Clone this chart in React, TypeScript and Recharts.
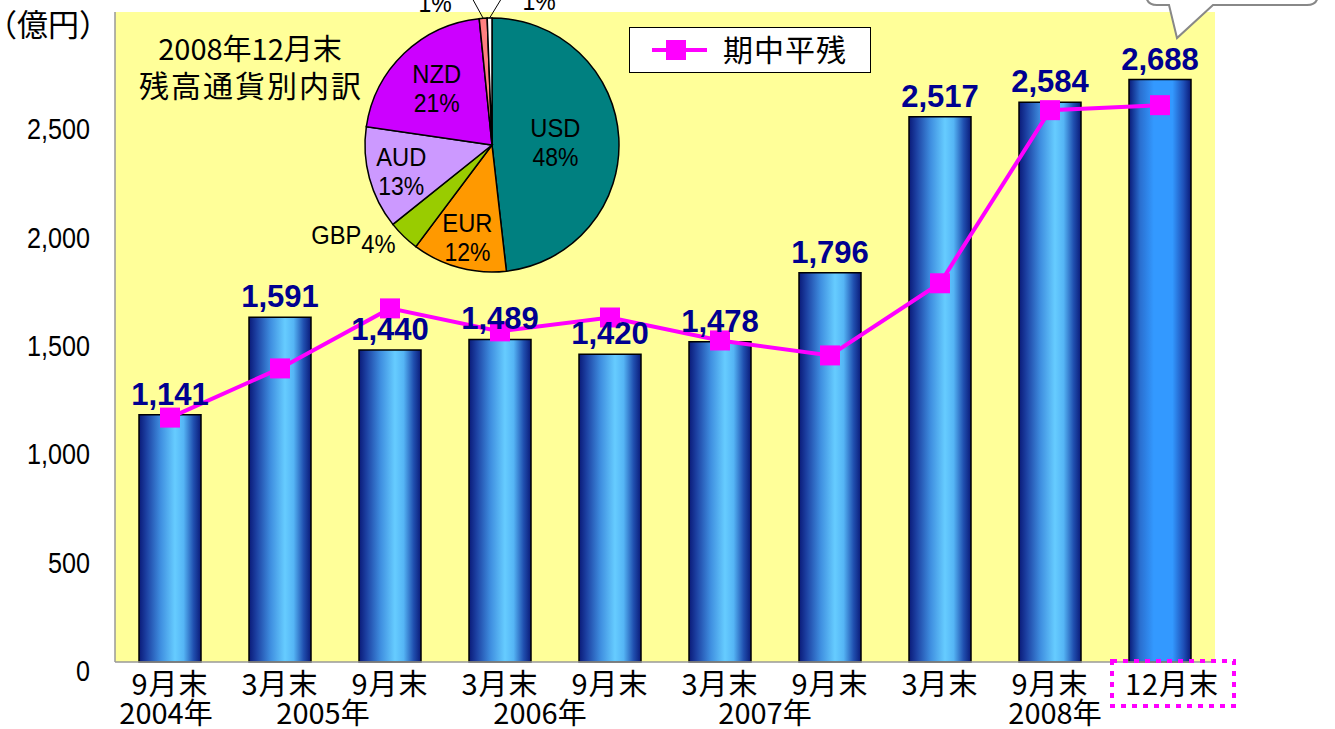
import React from 'react';
import {
  ComposedChart, Bar, Line, XAxis, YAxis, CartesianGrid, LabelList, Legend, Cell,
  PieChart, Pie,
} from 'recharts';

// ---- data ----
const categories = ['9月末', '3月末', '9月末', '3月末', '9月末', '3月末', '9月末', '3月末', '9月末', '12月末'];
const yearLabels = ['2004年', '2005年', '2006年', '2007年', '2008年'];
const yearAnchorIndex = [0, 1, 3, 5, 8];
const periodEndBalance = [1141, 1591, 1440, 1489, 1420, 1478, 1796, 2517, 2584, 2688];
const averageBalance = [1128, 1355, 1632, 1526, 1590, 1484, 1415, 1748, 2547, 2570];
const yTicks = [0, 500, 1000, 1500, 2000, 2500];

const currencies = ['USD', 'EUR', 'GBP', 'AUD', 'NZD', 'その他A', 'その他B'];
const currencyShares = [48, 12, 4, 13, 21, 1, 0.6];
const currencyPctLabels = ['48%', '12%', '4%', '13%', '21%', '1%', '1%'];

const lineName = '期中平残';
const unitLabel = '（億円）';
const pieTitle1 = '2008年12月末';
const pieTitle2 = '残高通貨別内訳';

// ---- styles ----
const LATIN = '"Liberation Sans", Arial, "Noto Sans CJK JP", sans-serif';
const CJK = '"Noto Sans CJK JP", sans-serif';
const pieColors = ['#008080', '#FF9900', '#99CC00', '#CC99FF', '#CC00FF', '#FF8080', '#FFFFFF'];
const YEAR_SHIFT = [-4, 43, 40, 45, 5];
const LAST_TICK_SHIFT = 12;

const tableData = categories.map((c, i) => ({
  cat: c,
  balance: periodEndBalance[i],
  avg: averageBalance[i],
}));
const pieData = currencies.map((n, i) => ({ name: n, value: currencyShares[i], pct: currencyPctLabels[i] }));

const NText = ({ x, y, sx = 1, anchor = 'start', children, ...rest }: any) => (
  <text transform={`translate(${x},${y}) scale(${sx},1)`} x={0} y={0} textAnchor={anchor} {...rest}>
    {children}
  </text>
);

const XTick = (props: any) => {
  const { x, y, payload, index } = props;
  const yi = yearAnchorIndex.indexOf(index);
  const isLast = index === categories.length - 1;
  const mx = x + (isLast ? LAST_TICK_SHIFT : 0);
  return (
    <g>
      <text x={mx} y={y + 33} textAnchor="middle" fontFamily={CJK} fontSize={29} letterSpacing={1} fill="#000">
        {payload.value}
      </text>
      {yi >= 0 && (
        <text x={x + YEAR_SHIFT[yi]} y={y + 62} textAnchor="middle" fontFamily={CJK} fontSize={29} fill="#000">
          {yearLabels[yi]}
        </text>
      )}
      {isLast && (
        <rect x={mx - 60} y={y - 1} width={122} height={45} fill="none" stroke="#FF00FF" strokeWidth={4} strokeDasharray="5 6" />
      )}
    </g>
  );
};

const YTick = (props: any) => {
  const { x, y, payload } = props;
  return (
    <NText x={x - 25} y={y + 19} sx={0.84} anchor="end" fontFamily={LATIN} fontSize={30} fill="#000">
      {Number(payload.value).toLocaleString('en-US')}
    </NText>
  );
};

const BarValueLabel = (props: any) => {
  const { x, y, width, value } = props;
  return (
    <NText x={x + width / 2} y={y - 10} sx={0.97} anchor="middle" fontFamily={LATIN} fontWeight="bold" fontSize={32} fill="#000090">
      {Number(value).toLocaleString('en-US')}
    </NText>
  );
};

const SquareDot = (props: any) => {
  const { cx, cy, index } = props;
  if (cx == null || cy == null) return null;
  return <rect key={`d${index}`} x={cx - 10} y={cy - 10} width={20} height={20} fill="#FF00FF" />;
};

const LegendBox = () => (
  <div style={{ width: 242, height: 46, boxSizing: 'border-box', border: '1.5px solid #000', background: '#fff', position: 'relative' }}>
    <svg width={240} height={44} style={{ position: 'absolute', left: 0, top: 0 }}>
      <line x1={22} y1={22} x2={77} y2={22} stroke="#FF00FF" strokeWidth={4} />
      <rect x={36} y={12} width={20} height={20} fill="#FF00FF" />
      <text x={93} y={33} fontFamily={CJK} fontSize={30} letterSpacing={1} fill="#000">{lineName}</text>
    </svg>
  </div>
);

const RAD = Math.PI / 180;
const PIE_LABEL_R = [0.5, 0.74, 1.09, 0.74, 0.63, 0, 0];

const PieLabel = (props: any) => {
  const { cx, cy, midAngle, outerRadius, index } = props;
  const name = currencies[index];
  const pct = currencyPctLabels[index];
  const cos = Math.cos(-midAngle * RAD);
  const sin = Math.sin(-midAngle * RAD);
  if (index <= 4 && index !== 2) {
    const r = outerRadius * PIE_LABEL_R[index];
    const lx = cx + r * cos;
    const ly = cy + r * sin;
    return (
      <g>
        <NText x={lx} y={ly - 4} sx={0.95} anchor="middle" fontFamily={LATIN} fontSize={25} fill="#000">{name}</NText>
        <NText x={lx} y={ly + 25} sx={0.92} anchor="middle" fontFamily={LATIN} fontSize={25} fill="#000">{pct}</NText>
      </g>
    );
  }
  if (index === 2) {
    const r = outerRadius * PIE_LABEL_R[index];
    const lx = cx + r * cos;
    const ly = cy + r * sin;
    return (
      <NText x={lx} y={ly} sx={0.95} anchor="end" fontFamily={LATIN} fontSize={25} fill="#000">
        {name}
        <tspan dy={9}>{pct}</tspan>
      </NText>
    );
  }
  // tiny slices: leader lines up to labels above the pie
  const ex = cx + outerRadius * cos;
  const ey = cy + outerRadius * sin;
  const left = index === 5;
  const tx = left ? cx - 21 : cx + 11;
  return (
    <g>
      <line x1={ex} y1={ey} x2={tx} y2={-4} stroke="#000" strokeWidth={1} />
      <NText x={left ? cx - 57 : cx + 47} y={left ? 12 : 10} sx={0.92} anchor="middle" fontFamily={LATIN} fontSize={25} fill="#000">{pct}</NText>
    </g>
  );
};

export default function App() {
  return (
    <div style={{ position: 'absolute', left: 0, top: 0, width: 1335, height: 729, background: '#fff', overflow: 'hidden' }}>
      <ComposedChart width={1335} height={729} data={tableData} margin={{ top: 12, right: 120, bottom: 0, left: 0 }}>
        <defs>
          <linearGradient id="barGrad" x1="0" y1="0" x2="1" y2="0">
            <stop offset="0%" stopColor="#0a1a78" />
            <stop offset="12%" stopColor="#1c40a2" />
            <stop offset="35%" stopColor="#3f8fe0" />
            <stop offset="58%" stopColor="#66ccff" />
            <stop offset="72%" stopColor="#55b5f5" />
            <stop offset="88%" stopColor="#2050b0" />
            <stop offset="100%" stopColor="#0a1a78" />
          </linearGradient>
          <linearGradient id="barGradLast" x1="0" y1="0" x2="1" y2="0">
            <stop offset="0%" stopColor="#0a1a78" />
            <stop offset="18%" stopColor="#2a6fd0" />
            <stop offset="40%" stopColor="#3399ff" />
            <stop offset="70%" stopColor="#3399ff" />
            <stop offset="88%" stopColor="#1e50b8" />
            <stop offset="100%" stopColor="#0a1a78" />
          </linearGradient>
        </defs>
        <CartesianGrid fill="#FFFF99" horizontal={false} vertical={false} />
        <XAxis
          dataKey="cat"
          interval={0}
          height={67}
          tickSize={0}
          tickMargin={0}
          tickLine={false}
          axisLine={{ stroke: '#999', strokeWidth: 1.5 }}
          tick={<XTick />}
        />
        <YAxis
          domain={[0, 3000]}
          ticks={yTicks}
          width={115}
          tickSize={0}
          tickMargin={0}
          tickLine={false}
          axisLine={{ stroke: '#999', strokeWidth: 1.5 }}
          tick={<YTick />}
        />
        <Legend
          layout="vertical"
          align="center"
          verticalAlign="middle"
          wrapperStyle={{ left: 629, top: 27, width: 242, height: 46 }}
          content={<LegendBox />}
        />
        <Bar dataKey="balance" barSize={62} stroke="#000" strokeWidth={1.5} isAnimationActive={false} legendType="none">
          {tableData.map((_, i) => (
            <Cell key={i} fill={i === tableData.length - 1 ? 'url(#barGradLast)' : 'url(#barGrad)'} />
          ))}
          <LabelList dataKey="balance" content={<BarValueLabel />} />
        </Bar>
        <Line
          dataKey="avg"
          name={lineName}
          type="linear"
          stroke="#FF00FF"
          strokeWidth={4}
          dot={<SquareDot />}
          activeDot={false}
          isAnimationActive={false}
        />
      </ComposedChart>

      {/* unit label */}
      <svg width={140} height={50} style={{ position: 'absolute', left: 0, top: 0 }}>
        <text x={-14} y={36} fontFamily={CJK} fontSize={31} fill="#000">{unitLabel}</text>
      </svg>

      {/* pie title */}
      <svg width={300} height={120} style={{ position: 'absolute', left: 100, top: 0 }}>
        <text x={150} y={60} textAnchor="middle" fontFamily={CJK} fontSize={29} fill="#000">{pieTitle1}</text>
        <text x={151} y={97} textAnchor="middle" fontFamily={CJK} fontSize={30} letterSpacing={2} fill="#000">{pieTitle2}</text>
      </svg>

      {/* pie */}
      <div style={{ position: 'absolute', left: 292, top: 0, width: 400, height: 300 }}>
        <PieChart width={400} height={300} margin={{ top: 0, right: 0, bottom: 0, left: 0 }}>
          <Pie
            data={pieData}
            dataKey="value"
            nameKey="name"
            cx={200}
            cy={145}
            outerRadius={127}
            startAngle={90}
            endAngle={-270}
            label={PieLabel}
            labelLine={false}
            isAnimationActive={false}
            stroke="#000"
            strokeWidth={1.5}
          >
            {pieData.map((_, i) => (
              <Cell key={i} fill={pieColors[i]} stroke="#000" strokeWidth={1.5} />
            ))}
          </Pie>
        </PieChart>
      </div>

      {/* callout bubble (top right) */}
      <svg width={1335} height={60} style={{ position: 'absolute', left: 0, top: 0, pointerEvents: 'none' }}>
        <path
          d="M 1146 -30 L 1146 -6 Q 1146 5 1157 5 L 1169 5 L 1177 38 L 1213 5 L 1307 5 Q 1318 5 1318 -6 L 1318 -30"
          fill="#fff"
          stroke="#888"
          strokeWidth={2}
        />
      </svg>
    </div>
  );
}
